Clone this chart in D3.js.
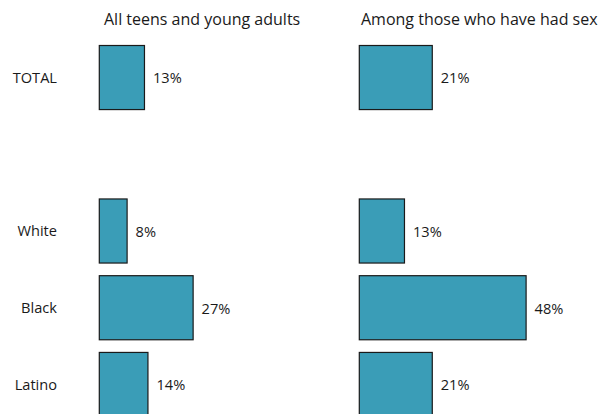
<!DOCTYPE html>
<html>
<head>
<meta charset="utf-8">
<script src="https://cdn.jsdelivr.net/npm/d3@7"></script>
<style>
  body { margin: 0; background: #fff; }
  text { font-family: "Open Sans", sans-serif; fill: #1a1a1a; }
</style>
</head>
<body>
<div id="chart"></div>
<script>
const categories = ["TOTAL", "White", "Black", "Latino"];
const panelTitles = ["All teens and young adults", "Among those who have had sex"];
const allTeens = [13, 8, 27, 14];
const hadSex = [21, 13, 48, 21];

const width = 603, height = 414;

const svg = d3.select("#chart").append("svg")
    .attr("width", width)
    .attr("height", height);

// empty slot between TOTAL and the race groups
const y = d3.scaleBand()
    .domain(["TOTAL", "_gap", "White", "Black", "Latino"])
    .range([45.5, 416.5])
    .paddingInner(0.165)
    .paddingOuter(0);

const x = d3.scaleLinear()
    .domain([0, 100])
    .range([0, 347.5]);

// category labels
svg.append("g")
    .selectAll("text")
    .data(categories)
    .join("text")
    .attr("x", 57)
    .attr("y", d => y(d) + y.bandwidth() / 2)
    .attr("dy", "0.35em")
    .attr("text-anchor", "end")
    .style("font-size", "14.6px")
    .text(d => d);

const panels = [
    { title: panelTitles[0], values: allTeens, left: 99.3, titleX: 104 },
    { title: panelTitles[1], values: hadSex, left: 359.3, titleX: 361 }
];

panels.forEach(p => {
    const g = svg.append("g").attr("transform", `translate(${p.left},0)`);

    g.append("text")
        .attr("x", p.titleX - p.left)
        .attr("y", 25)
        .style("font-size", "16px")
        .text(p.title);

    const rows = categories.map((c, i) => ({ cat: c, v: p.values[i] }));

    g.selectAll("rect")
        .data(rows)
        .join("rect")
        .attr("x", x(0))
        .attr("y", d => y(d.cat))
        .attr("width", d => x(d.v) - x(0))
        .attr("height", y.bandwidth())
        .attr("fill", "#3a9db7")
        .attr("stroke", "#1a1a1a")
        .attr("stroke-width", 1.2);

    g.selectAll("text.val")
        .data(rows)
        .join("text")
        .attr("class", "val")
        .attr("x", d => x(d.v) + 8.5)
        .attr("y", d => y(d.cat) + y.bandwidth() / 2)
        .attr("dy", "0.4em")
        .style("font-size", "14.6px")
        .text(d => d.v + "%");
});
</script>
</body>
</html>
